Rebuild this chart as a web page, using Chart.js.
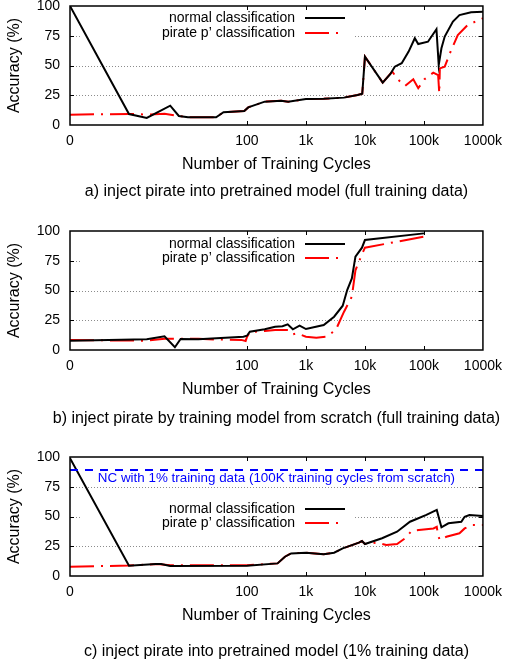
<!DOCTYPE html>
<html>
<head>
<meta charset="utf-8">
<script src="https://cdn.jsdelivr.net/npm/chart.js@4.4.1/dist/chart.umd.min.js"></script>
<style>
  html, body { margin: 0; padding: 0; background: #fff; }
  #wrap { position: relative; width: 510px; height: 664px; }
  canvas { position: absolute; left: 0; }
</style>
</head>
<body>
<div id="wrap">
  <canvas id="chartA" width="510" height="225" style="top:0px"></canvas>
  <canvas id="chartB" width="510" height="226" style="top:225px"></canvas>
  <canvas id="chartC" width="510" height="213" style="top:451px"></canvas>
</div>
<script>
// x axis is log; "0 cycles" sits at the left edge (drawn at 0.1)
const ZERO_AT = 0.1;
const X_TICKS = [0.1, 100, 1000, 10000, 100000, 1000000];
const X_LABELS = ['0', '100', '1k', '10k', '100k', '1000k'];
const Y_TICKS = [0, 25, 50, 75, 100];
const SERIES_NAMES = ['normal classification', 'pirate p\u2019 classification'];

// a) inject pirate into pretrained model (full training data)
const A_NORMAL_X = [0, 1, 2, 5, 7, 10, 30, 40, 90, 105, 200, 380, 500, 1000, 2000, 4400, 7500, 9000, 10000, 20000,
  27000, 32000, 42000, 55000, 70000, 80000, 117000, 163000, 178000, 198000, 225000, 310000, 400000, 630000, 1000000];
const A_NORMAL_Y = [100, 9.2, 5.9, 16.2, 7.6, 6.5, 6.5, 10.7, 11.8, 14.8, 19.6, 20.4, 19.6, 21.8, 22, 23, 25.2, 26.3, 57.4, 35.6,
  42.9, 49, 51.9, 61.7, 72.9, 68, 70, 80.5, 50.4, 64.5, 74.3, 86.9, 92.4, 94.7, 95.2];
const A_PIRATE_X = [0, 1, 2, 4, 7, 10, 30, 40, 90, 105, 200, 380, 500, 1000, 2000, 4400, 7500, 9000, 10000, 20000,
  29000, 37000, 48000, 66000, 80000, 102000, 144000, 174000, 182000, 186000, 225000, 290000, 375000, 550000, 1000000];
const A_PIRATE_Y = [8.7, 9.3, 8.8, 9.5, 7.6, 6.5, 6.5, 10.7, 11.8, 14.8, 19.6, 20.4, 19.6, 21.8, 22, 23, 25.2, 26.3, 57.4, 35.6,
  44.9, 37.8, 32.8, 38.4, 30.9, 38.4, 44, 42, 26.6, 47.6, 49, 63, 75.6, 84, 89.7];

// b) inject pirate by training model from scratch (full training data)
const B_NORMAL_X = [0, 2, 4, 6, 7.5, 15, 87, 100, 112, 200, 300, 400, 490, 600, 780, 1000, 2000, 3000, 4200, 5000,
  6000, 6900, 8900, 10000, 100000];
const B_NORMAL_Y = [7.8, 9, 11.5, 2.3, 9.2, 9, 11.2, 12, 15.4, 17.5, 19.6, 20, 21.6, 17.4, 20.4, 17.6, 21, 28, 37.2, 50.4,
  60.2, 78.4, 86, 92.4, 98];
const B_PIRATE_X = [0, 2, 4, 6, 15, 30, 80, 95, 100, 112, 200, 300, 500, 600, 700, 1000, 1500, 2200, 3200, 4400,
  6000, 6900, 8900, 10000, 100000];
const B_PIRATE_Y = [8.4, 7.8, 9.5, 9.5, 9.5, 8.8, 8.5, 7.5, 11, 15, 16, 16.8, 16.8, 13.2, 14, 11.2, 10.4, 11.2, 16.8, 32,
  44.8, 67, 80.4, 86, 95.2];

// c) inject pirate into pretrained model (1% training data)
const C_NORMAL_X = [0, 1, 2.85, 3.5, 5, 100, 330, 440, 560, 1000, 2000, 3000, 4200, 7900, 8900, 10000, 19500, 35000, 58000, 75000,
  110000, 165000, 198000, 260000, 430000, 490000, 590000, 1000000];
const C_NORMAL_Y = [99, 8.7, 10, 10, 8.4, 8.7, 10.6, 16.2, 19, 19.6, 18.2, 19.6, 23.2, 28, 29.4, 26.9, 31.7, 37.2, 45.6, 47.9,
  51.3, 55.5, 40.9, 44.3, 45.6, 49.8, 51.3, 50.4];
const C_PIRATE_X = [0, 1, 3, 5, 100, 330, 440, 560, 1000, 2000, 3000, 4200, 7900, 8900, 10000, 16000, 23000, 35000, 48000, 62000,
  82000, 145000, 165000, 173000, 185000, 240000, 400000, 490000, 660000, 1000000];
const C_PIRATE_Y = [7.8, 8.8, 10, 9, 9, 10.6, 16.2, 19, 19.6, 18.2, 19.6, 23.2, 28, 29.4, 26.9, 28, 26, 26.9, 31.7, 38,
  38.7, 40, 41.4, 34.5, 30.3, 33, 35.9, 40, 42.9, 42.9];
const C_BASELINE = 89;
const C_BASELINE_LABEL = 'NC with 1% training data (100K training cycles from scratch)';

const FONT = '"Liberation Sans", Arial, Helvetica, sans-serif';
const PLOT_BOTTOM = 125;   // chart area bottom inside each canvas

function toPoints(xs, ys) {
  return xs.map((x, i) => ({ x: x === 0 ? ZERO_AT : x, y: ys[i] }));
}

function makePanel(canvasId, cfg) {
  const ctx = document.getElementById(canvasId).getContext('2d');

  const datasets = [];
  if (cfg.baseline !== undefined) {
    datasets.push({
      data: [{ x: ZERO_AT, y: cfg.baseline }, { x: 1000000, y: cfg.baseline }],
      borderColor: '#0000ff',
      borderWidth: 2,
      borderDash: [8, 7]
    });
  }
  datasets.push({
    label: SERIES_NAMES[0],
    data: toPoints(cfg.normalX, cfg.normalY),
    borderColor: '#000000',
    borderWidth: 2
  });
  datasets.push({
    label: SERIES_NAMES[1],
    data: toPoints(cfg.pirateX, cfg.pirateY),
    borderColor: '#ff0000',
    borderWidth: 2,
    borderDash: [24, 7, 2, 7]
  });

  // frame, dotted grid, inward ticks, key, titles
  const decor = {
    id: 'decor',
    beforeDatasetsDraw(chart) {
      const { ctx, chartArea: a, scales: { y } } = chart;
      ctx.save();
      ctx.strokeStyle = '#8c8c8c';
      ctx.lineWidth = 1;
      ctx.setLineDash([1, 2]);
      [25, 50, 75].forEach(v => {
        const py = Math.round(y.getPixelForValue(v)) + 0.5;
        ctx.beginPath();
        ctx.moveTo(a.left, py);
        ctx.lineTo(a.right, py);
        ctx.stroke();
      });
      ctx.setLineDash([]);
      ctx.fillStyle = '#ffffff';
      ctx.fillRect(80, cfg.keyY[0] - 9, 273, cfg.keyY[1] - cfg.keyY[0] + 18);
      ctx.restore();
    },
    afterDatasetsDraw(chart) {
      const { ctx, chartArea: a, scales: { x, y } } = chart;
      ctx.save();
      ctx.strokeStyle = '#000';
      ctx.lineWidth = 1;
      ctx.beginPath();
      [25, 50, 75].forEach(v => {
        const py = Math.round(y.getPixelForValue(v)) + 0.5;
        ctx.moveTo(a.left, py); ctx.lineTo(a.left + 4, py);
        ctx.moveTo(a.right - 4, py); ctx.lineTo(a.right, py);
      });
      X_TICKS.slice(1, -1).forEach(v => {
        const px = Math.round(x.getPixelForValue(v)) + 0.5;
        ctx.moveTo(px, a.bottom); ctx.lineTo(px, a.bottom - 4);
        ctx.moveTo(px, a.top); ctx.lineTo(px, a.top + 4);
      });
      ctx.stroke();
      ctx.lineWidth = 1.5;
      ctx.strokeRect(a.left, a.top, a.right - a.left, a.bottom - a.top);

      // key
      ctx.font = '14px ' + FONT;
      ctx.textAlign = 'right';
      ctx.textBaseline = 'middle';
      ctx.fillStyle = '#000';
      chart.data.datasets.filter(d => d.label).forEach((d, i) => {
        const ky = cfg.keyY[i];
        ctx.fillText(d.label, 295, ky);
        ctx.strokeStyle = d.borderColor;
        ctx.lineWidth = 2;
        ctx.setLineDash(d.borderDash || []);
        ctx.beginPath();
        ctx.moveTo(305, ky); ctx.lineTo(345, ky);
        ctx.stroke();
        ctx.setLineDash([]);
      });

      const cx = (a.left + a.right) / 2;
      if (cfg.baseline !== undefined) {
        ctx.font = '13.4px ' + FONT;
        ctx.textAlign = 'center';
        ctx.fillStyle = '#0000ff';
        ctx.fillText(C_BASELINE_LABEL, cx, y.getPixelForValue(cfg.baseline) + 8);
      }

      ctx.fillStyle = '#000';
      ctx.font = '16px ' + FONT;
      ctx.textAlign = 'center';
      ctx.fillText('Number of Training Cycles', cx, a.bottom + 40);
      ctx.fillText(cfg.caption, cx, a.bottom + cfg.captionGap);
      ctx.translate(15, (a.top + a.bottom) / 2);
      ctx.rotate(-Math.PI / 2);
      ctx.fillText('Accuracy (%)', 0, 0);
      ctx.restore();
    }
  };

  return new Chart(ctx, {
    type: 'line',
    data: { datasets },
    options: {
      responsive: false,
      animation: false,
      events: [],
      layout: { padding: { top: 6, right: 23, left: 0, bottom: 0 } },
      elements: { point: { radius: 0 }, line: { tension: 0, fill: false } },
      plugins: { legend: { display: false }, tooltip: { enabled: false } },
      scales: {
        x: {
          type: 'logarithmic',
          min: ZERO_AT,
          max: 1000000,
          afterBuildTicks: s => { s.ticks = X_TICKS.map(v => ({ value: v })); },
          afterFit: s => { s.height = s.chart.height - PLOT_BOTTOM; },
          grid: { display: false, drawTicks: false },
          border: { display: false },
          ticks: {
            autoSkip: false,
            maxRotation: 0,
            padding: 8,
            color: '#000',
            font: { family: FONT, size: 14 },
            callback: (v, i) => X_LABELS[i]
          }
        },
        y: {
          min: 0,
          max: 100,
          afterBuildTicks: s => { s.ticks = Y_TICKS.map(v => ({ value: v })); },
          afterFit: s => { s.width = 70; s.paddingTop = 0; s.paddingBottom = 0; },
          grid: { display: false, drawTicks: false },
          border: { display: false },
          ticks: {
            padding: 10,
            color: '#000',
            font: { family: FONT, size: 14 }
          }
        }
      }
    },
    plugins: [decor]
  });
}

makePanel('chartA', {
  normalX: A_NORMAL_X, normalY: A_NORMAL_Y, pirateX: A_PIRATE_X, pirateY: A_PIRATE_Y,
  keyY: [18, 33], captionGap: 67,
  caption: 'a) inject pirate into pretrained model (full training data)'
});
makePanel('chartB', {
  normalX: B_NORMAL_X, normalY: B_NORMAL_Y, pirateX: B_PIRATE_X, pirateY: B_PIRATE_Y,
  keyY: [19, 33], captionGap: 69,
  caption: 'b) inject pirate by training model from scratch (full training data)'
});
makePanel('chartC', {
  normalX: C_NORMAL_X, normalY: C_NORMAL_Y, pirateX: C_PIRATE_X, pirateY: C_PIRATE_Y,
  keyY: [58, 72], captionGap: 76, baseline: C_BASELINE,
  caption: 'c) inject pirate into pretrained model (1% training data)'
});
</script>
</body>
</html>
